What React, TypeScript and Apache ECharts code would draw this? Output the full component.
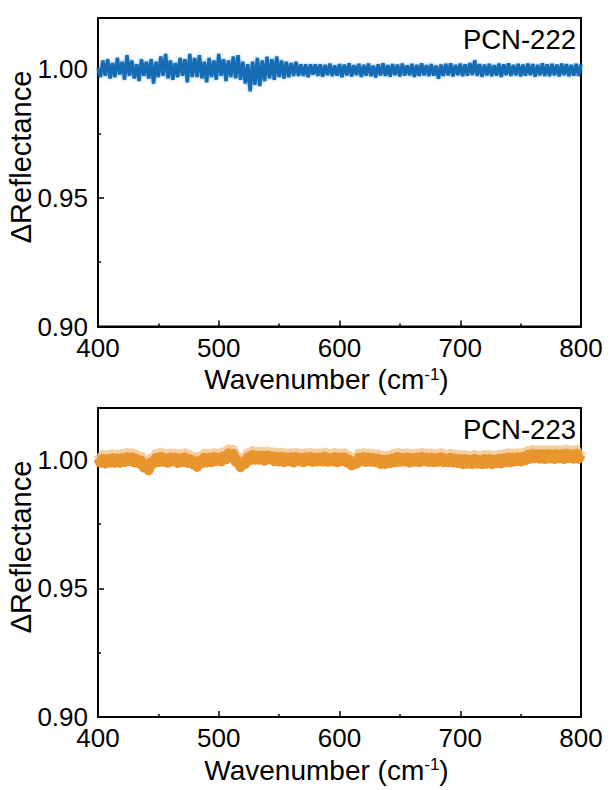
import React, { useEffect, useRef } from 'react';
import * as echarts from 'echarts';

const FONT = 'Arial, "Liberation Sans", Helvetica, sans-serif';

// Sampling grid of the spectra (cm-1)
const WN_START = 400;
const WN_STEP = 2;

// ΔReflectance, PCN-222 (400 → 800 cm-1, every 2 cm-1)
const pcn222 = [
  1.0005, 0.997, 1.0035, 0.9975, 1.004, 0.9965, 1.0025, 0.997, 1.0045, 0.998,
  1.003, 0.996, 1.0055, 0.9975, 1.0035, 0.9965, 1.002, 0.9955, 1.004, 0.9975,
  1.003, 0.9965, 1.004, 0.9945, 1.003, 0.997, 1.005, 0.9975, 1.006, 0.9965,
  1.0035, 0.996, 1.0025, 0.997, 1.0045, 0.9975, 1.004, 0.995, 1.006, 0.997,
  1.0045, 0.997, 1.0055, 0.9965, 1.003, 0.995, 1.0045, 0.997, 1.0035, 0.996,
  1.006, 0.9975, 1.004, 0.9955, 1.0035, 0.997, 1.005, 0.9965, 1.0055, 0.996,
  1.003, 0.9945, 1.002, 0.9915, 1.003, 0.994, 1.0045, 0.9935, 1.0035, 0.9955,
  1.005, 0.9965, 1.004, 0.996, 1.005, 0.997, 1.0035, 0.9965, 1.003, 0.997,
  1.0025, 0.9975, 1.003, 0.9975, 1.002, 0.9975, 1.002, 0.997, 1.002, 0.998,
  1.002,
  0.9975, 1.002, 0.9972, 1.0018, 0.9978, 1.0023, 0.9974, 1.0016, 0.9976, 1.0021,
  0.997, 1.0019, 0.9977, 1.0024, 0.9973, 1.0017, 0.9978, 1.0022, 0.9971, 1.0018,
  0.9976, 1.0023, 0.9974, 1.0015, 0.9969, 1.002, 0.9977, 1.0024, 0.9975, 1.0017,
  0.9972, 1.0021, 0.9978, 1.0019, 0.9973, 1.0023, 0.9976, 1.0016, 0.9977, 1.0022,
  0.9971, 1.0018, 0.9975, 1.0024, 0.9977, 1.0017, 0.9974, 1.0021, 0.9976, 1.0015,
  0.9964, 1.0019, 0.9975, 1.0022, 0.9977, 1.0024, 0.9973, 1.0018, 0.9978, 1.0023,
  0.9974, 1.002, 0.9976, 1.0025, 0.9978, 1.0036, 0.9975, 1.0021, 0.9972, 1.0019,
  0.9977, 1.0022, 0.9974, 1.0017, 0.9976, 1.0023, 0.9971, 1.002, 0.9978, 1.0024,
  0.9975, 1.0018, 0.9977, 1.0022, 0.9973, 1.0019, 0.9976, 1.0023, 0.9978, 1.0021,
  0.9972, 1.0018, 0.9977, 1.0024, 0.9975, 1.002, 0.9974, 1.0022, 0.9977, 1.0019,
  0.9973, 1.0023, 0.9978, 1.0021, 0.9974, 1.0018, 0.9976, 1.0022, 0.9975, 1.002,
];

// ΔReflectance, PCN-223 (400 → 800 cm-1, every 2 cm-1)
const pcn223 = [
  1.0005, 0.9987, 1.0003, 0.9984, 1.0002, 0.9987, 1.0006, 0.9987, 1.0004, 0.9987,
  1.0006, 0.999, 1.001, 0.9994, 1.0009, 0.9988, 1.0003, 0.9984, 0.9995, 0.9969,
  0.9968, 0.9958, 0.999, 0.9983, 1.0006, 0.999, 1.0011, 0.9991, 1.0005, 0.9987,
  1.0008, 0.9992, 1.0007, 0.9986, 1.0005, 0.999, 1.0009, 0.9987, 1.0001, 0.9982,
  0.9993, 0.9971, 0.9995, 0.9985, 1.0007, 0.9988, 1.0007, 0.9989, 1.001, 0.9994,
  1.0007, 0.9992, 1.0013, 1.0001, 1.0024, 1.0009, 1.0022, 0.9991, 0.9995, 0.997,
  0.9989, 0.9983, 1.0009, 0.9997, 1.0018, 0.9999, 1.0015, 0.9999, 1.0015, 0.9995,
  1.0016, 1.0001, 1.0013, 0.9993, 1.0011, 0.9992, 1.0011, 0.999, 1.0008, 0.9994,
  1.0009, 0.9988, 1.001, 0.9994, 1.0007, 0.9989, 1.0009, 0.9994, 1.001, 0.999,
  1.0008, 0.9992, 1.0008, 0.9992, 1.0012, 0.9991, 1.0006, 0.9992, 1.001, 0.9989,
  1.0008, 0.9993, 1.0009, 0.9988, 0.9999, 0.9977, 0.9991, 0.9983, 1.0007, 0.9992,
  1.001, 0.999, 1.0008, 0.9991, 1.0006, 0.9989, 1.0004, 0.9983, 0.9999, 0.9983,
  1.0, 0.9986, 1.0005, 0.9989, 1.001, 0.9991, 1.0007, 0.9992, 1.0009, 0.9988,
  1.0006, 0.9991, 1.0008, 0.9989, 1.001, 0.9993, 1.0008, 0.999, 1.0008, 0.9989,
  1.0006, 0.9991, 1.001, 0.9989, 1.0004, 0.9989, 1.0007, 0.9988, 1.0004, 0.9986,
  1.0002, 0.9982, 1.0002, 0.9984, 0.9999, 0.9982, 1.0003, 0.9984, 0.9998, 0.9982,
  1.0002, 0.9984, 1.0002, 0.9982, 1.0, 0.9985, 1.0003, 0.9985, 1.0005, 0.9989,
  1.0009, 0.9989, 1.0008, 0.9993, 1.0009, 0.9992, 1.0011, 0.9997, 1.0018, 1.0003,
  1.0022, 1.0005, 1.002, 1.0003, 1.0021, 1.0002, 1.0021, 1.0004, 1.002, 1.0002,
  1.0021, 1.0005, 1.002, 1.0002, 1.0023, 1.0006, 1.002, 1.0003, 1.0022, 1.0003,
  1.002,
];

const wavenumbers = pcn222.map((_, i) => WN_START + WN_STEP * i);

const X_MIN = 400;
const X_MAX = 800;
const X_STEP = 100;
const Y_MIN = 0.9;
const Y_MAX = 1.02;
const Y_STEP = 0.05;

const panelLabels = ['PCN-222', 'PCN-223'];
const xTitle = 'Wavenumber (cm';
const yTitle = 'ΔReflectance';

const BLUE = '#156cb4';
const ORANGE = '#e8952f';

function makeX(gridIndex: number) {
  return {
    type: 'value',
    gridIndex,
    min: X_MIN,
    max: X_MAX,
    interval: X_STEP,
    name: `{a|${xTitle}}{s|-1}{a|)}`,
    nameLocation: 'middle',
    nameGap: 39,
    nameTextStyle: {
      padding: [0, 26, 0, 0],
      rich: {
        a: { fontSize: 28, fontFamily: FONT, color: '#000' },
        s: { fontSize: 17, fontFamily: FONT, color: '#000', verticalAlign: 'top' },
      },
    },
    axisLine: { show: true, onZero: false, lineStyle: { color: '#000', width: 2 } },
    axisTick: { show: true, inside: true, length: 6, lineStyle: { color: '#000', width: 1.5 } },
    minorTick: { show: true, splitNumber: 2, length: 3, lineStyle: { color: '#000', width: 1.5 } },
    axisLabel: { color: '#000', fontSize: 26, fontFamily: FONT, margin: 8 },
    splitLine: { show: false },
    minorSplitLine: { show: false },
  };
}

function makeY(gridIndex: number) {
  return {
    type: 'value',
    gridIndex,
    min: Y_MIN,
    max: Y_MAX,
    interval: Y_STEP,
    axisLine: { show: true, onZero: false, lineStyle: { color: '#000', width: 2 } },
    axisTick: { show: true, inside: true, length: 6, lineStyle: { color: '#000', width: 1.5 } },
    minorTick: { show: true, splitNumber: 2, length: 3, lineStyle: { color: '#000', width: 1.5 } },
    axisLabel: {
      color: '#000',
      fontSize: 26,
      fontFamily: FONT,
      margin: 10,
      showMaxLabel: false,
      formatter: (v: number) => v.toFixed(2),
    },
    splitLine: { show: false },
    minorSplitLine: { show: false },
  };
}

export default function App() {
  const ref = useRef<HTMLDivElement>(null);

  useEffect(() => {
    if (!ref.current) return;
    const chart = echarts.init(ref.current, null, { renderer: 'svg' });

    const grids = [
      { left: 98, top: 18, width: 483, height: 308.5 },
      { left: 98, top: 408, width: 483, height: 309 },
    ];

    const option: any = {
      animation: false,
      backgroundColor: '#fff',
      grid: grids.map((g) => ({
        ...g,
        show: true,
        borderColor: '#000',
        borderWidth: 2,
        backgroundColor: 'transparent',
        containLabel: false,
      })),
      xAxis: [makeX(0), makeX(1)],
      yAxis: [makeY(0), makeY(1)],
      series: [
        {
          type: 'line',
          xAxisIndex: 0,
          yAxisIndex: 0,
          data: wavenumbers.map((x, i) => [x, pcn222[i]]),
          symbol: 'none',
          clip: true,
          lineStyle: {
            color: BLUE,
            width: 3.4,
            join: 'bevel',
            shadowColor: 'rgba(22,109,181,0.5)',
            shadowBlur: 3,
          },
        },
        {
          type: 'line',
          xAxisIndex: 1,
          yAxisIndex: 1,
          data: wavenumbers.map((x, i) => [x, pcn223[i]]),
          symbol: 'none',
          clip: true,
          lineStyle: {
            color: ORANGE,
            width: 10,
            join: 'round',
            cap: 'butt',
            shadowColor: 'rgba(244,198,145,0.85)',
            shadowOffsetY: -4,
            shadowBlur: 1,
          },
        },
      ],
      graphic: [
        ...panelLabels.map((t, i) => ({
          type: 'text',
          right: 34,
          top: i === 0 ? 25 : 415,
          style: { text: t, fontSize: 27.5, fontFamily: FONT, fill: '#000' },
        })),
        ...grids.map((g) => ({
          type: 'text',
          x: 21,
          y: g.top + 139,
          rotation: Math.PI / 2,
          style: {
            text: yTitle,
            fontSize: 29,
            fontFamily: FONT,
            fill: '#000',
            align: 'center',
            verticalAlign: 'middle',
          },
        })),
      ],
    };

    chart.setOption(option);
    return () => chart.dispose();
  }, []);

  return (
    <div
      ref={ref}
      style={{ position: 'fixed', left: 0, top: 0, width: 610, height: 790, background: '#fff' }}
    />
  );
}
